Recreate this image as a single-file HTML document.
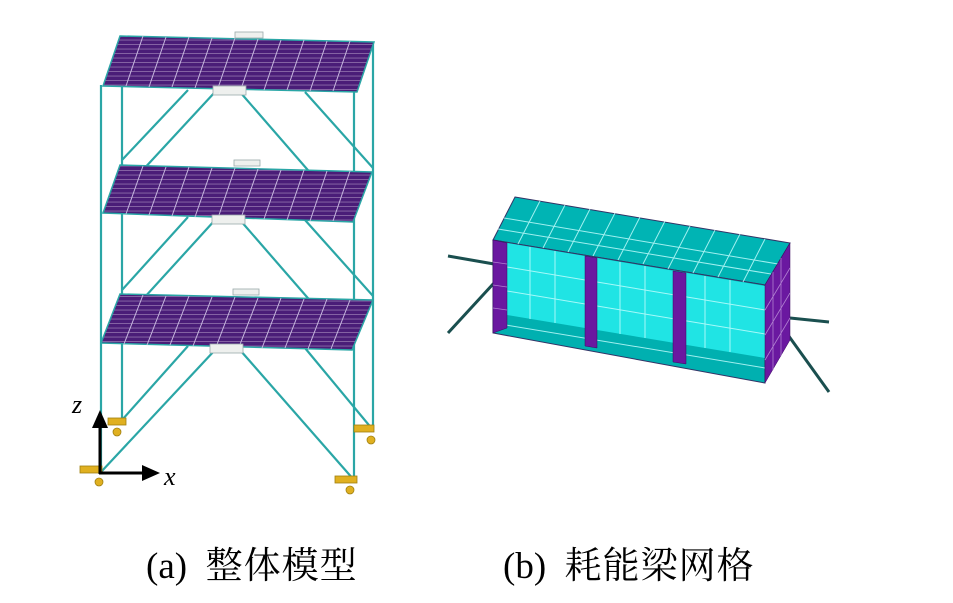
<!DOCTYPE html>
<html><head><meta charset="utf-8"><style>
html,body{margin:0;padding:0;background:#fff;width:953px;height:603px;overflow:hidden}
svg{position:absolute;left:0;top:0}
.cap{position:absolute;top:545px;font-family:"Liberation Serif","Noto Serif CJK SC",serif;font-size:37px;line-height:44px;color:#000;white-space:pre}
.cj{letter-spacing:1px}
</style></head><body>
<svg width="953" height="603" viewBox="0 0 953 603">
<defs>
<pattern id="slab" width="6" height="4.5" patternUnits="userSpaceOnUse">
<rect width="6" height="4.5" fill="#4a1d78"/><rect y="3.6" width="6" height="0.9" fill="#8a6aa8"/>
</pattern>
</defs>
<g stroke="#2aa6a6" stroke-width="2.2" fill="none">
<line x1="101" y1="85" x2="101" y2="472"/>
<line x1="122" y1="38" x2="122" y2="420"/>
<line x1="354" y1="92" x2="354" y2="480"/>
<line x1="373" y1="42" x2="373" y2="430"/>
<line x1="215" y1="92" x2="103" y2="213"/><line x1="240" y1="92" x2="353" y2="222"/>
<line x1="188" y1="90" x2="122" y2="160"/><line x1="305" y1="92" x2="373" y2="168"/>
<line x1="215" y1="220" x2="103" y2="343"/><line x1="240" y1="220" x2="353" y2="350"/>
<line x1="188" y1="217" x2="122" y2="290"/><line x1="305" y1="220" x2="373" y2="296"/>
<line x1="215" y1="350" x2="101" y2="472"/><line x1="240" y1="350" x2="354" y2="480"/>
<line x1="188" y1="346" x2="122" y2="420"/><line x1="305" y1="348" x2="373" y2="430"/>
</g>
<g stroke="#2aa6a6" stroke-width="1.5">
<polygon points="120,36 374,42 357,92 103,86" fill="url(#slab)"/>
<polygon points="120,165 372,172 353,222 103,213" fill="url(#slab)"/>
<polygon points="120,294 373,300 352,350 101,343" fill="url(#slab)"/>
</g>
<g stroke="#c8b8e0" stroke-width="1">
<path d="M143,36 L126,86 M166,37 L149,87 M189,37 L172,87 M212,38 L195,88 M235,38 L218,88 M258,39 L241,89 M281,40 L264,90 M304,40 L287,90 M327,41 L310,91 M350,41 L333,91"/>
<path d="M143,166 L126,214 M166,167 L149,215 M189,167 L172,216 M212,168 L195,217 M235,168 L218,218 M258,169 L241,218 M281,170 L264,219 M304,170 L287,220 M327,171 L310,221 M350,171 L333,221"/>
<path d="M143,295 L124,344 M166,296 L147,345 M189,296 L170,345 M212,297 L193,346 M235,297 L216,347 M258,298 L239,347 M281,298 L262,348 M304,299 L285,348 M327,299 L308,349 M350,300 L331,349"/>
</g>
<g fill="#eef0ee" stroke="#9aa" stroke-width="0.8">
<rect x="213" y="86" width="33" height="9"/><rect x="235" y="32" width="28" height="6"/>
<rect x="212" y="215" width="33" height="9"/><rect x="234" y="160" width="26" height="6"/>
<rect x="210" y="344" width="33" height="9"/><rect x="233" y="289" width="26" height="6"/>
</g>
<g fill="#e0b020" stroke="#a08010" stroke-width="0.8">
<rect x="108" y="418" width="18" height="7"/><circle cx="117" cy="432" r="4"/>
<rect x="354" y="425" width="20" height="7"/><circle cx="371" cy="440" r="4"/>
<rect x="80" y="466" width="22" height="7"/><circle cx="99" cy="482" r="4"/>
<rect x="335" y="476" width="22" height="7"/><circle cx="350" cy="490" r="4"/>
</g>
<g stroke="#000" stroke-width="3" fill="#000">
<line x1="100" y1="474" x2="100" y2="425"/><polygon points="100,410 92,428 108,428" stroke="none"/>
<line x1="99" y1="473" x2="145" y2="473"/><polygon points="160,473 142,465 142,481" stroke="none"/>
</g>
<text x="72" y="413" font-family="Liberation Serif,serif" font-style="italic" font-size="26">z</text>
<text x="164" y="485" font-family="Liberation Serif,serif" font-style="italic" font-size="26">x</text>

<g stroke="#1a4f4f" stroke-width="3" fill="none">
<line x1="448" y1="256" x2="494" y2="264"/><line x1="448" y1="333" x2="494" y2="283"/>
<line x1="790" y1="318" x2="829" y2="322"/><line x1="788" y1="335" x2="829" y2="392"/>
</g>
<polygon points="515,197 790,243 765,285 493,240" fill="#00b4b4" stroke="#336" stroke-width="1"/>
<polygon points="493,240 765,285 765,383 493,333" fill="#00b0b0" stroke="#336" stroke-width="1"/>
<polygon points="507,243 765,286 765,358 507,315" fill="#20e4e4"/>
<g stroke="#c8ffff" stroke-width="1" opacity="0.8">
<path d="M540,201 L518,244 M565,205 L543,248 M590,209 L568,252 M615,213 L593,256 M640,217 L618,260 M665,221 L643,264 M690,226 L668,269 M715,230 L693,273 M740,234 L718,277 M765,239 L743,282"/>
<path d="M504,218 L778,264 M498,229 L771,274"/>
<path d="M530,247 L530,319 M555,251 L555,323 M620,262 L620,334 M645,266 L645,338 M705,276 L705,348 M730,280 L730,352"/>
<path d="M507,267 L765,310 M507,291 L765,334"/>
<path d="M500,324 L765,368"/>
</g>
<g fill="#6a18a0" stroke="#3a0a60" stroke-width="0.5">
<polygon points="493,240 507,243 507,328 493,333"/>
<polygon points="585,256 597,258 597,348 585,346"/>
<polygon points="673,271 686,273 686,364 673,362"/>
<polygon points="765,285 790,243 790,340 765,383"/>
</g>
<g stroke="#b080d0" stroke-width="0.8">
<path d="M493,262 L507,264 M493,285 L507,287 M493,308 L507,310 M773,272 L773,370 M781,258 L781,356 M765,310 L790,268 M765,335 L790,293 M765,360 L790,318"/>
</g>
</svg>
<div class="cap" style="left:146px">(a)  <span class="cj">整体模型</span></div>
<div class="cap" style="left:503px">(b)  <span class="cj">耗能梁网格</span></div>
</body></html>
